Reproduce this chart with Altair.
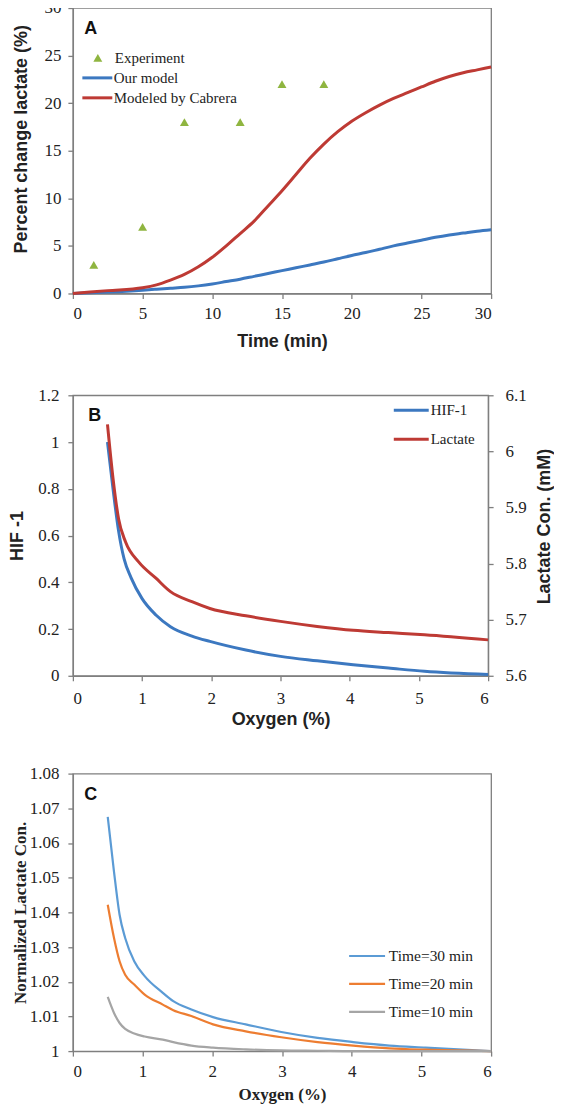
import altair as alt
import pandas as pd

# ---------------- Panel A data ----------------
exp_time = [1.5, 5, 8, 12, 15, 18]
exp_value = [3, 7, 18, 18, 22, 22]
model_time = [0, 2.5, 5, 6, 7, 8, 9, 10, 11, 12, 13, 14, 15, 16, 17, 18, 19, 20,
              21, 22, 23, 24, 25, 26, 27, 28, 29, 30]
our_model = [0, 0.15, 0.35, 0.45, 0.55, 0.65, 0.8, 1.0, 1.25, 1.5, 1.8, 2.1, 2.4, 2.7,
             3.0, 3.3, 3.65, 4.0, 4.3, 4.65, 5.0, 5.3, 5.6, 5.9, 6.15, 6.35, 6.55, 6.7]
cabrera = [0, 0.3, 0.6, 0.9, 1.4, 2.0, 2.8, 3.8, 5.0, 6.3, 7.6, 9.2, 10.8, 12.5,
           14.2, 15.7, 17.0, 18.1, 19.0, 19.8, 20.5, 21.1, 21.7, 22.3, 22.8, 23.2, 23.5, 23.8]

# ---------------- Panel B data ----------------
hif_oxygen = [0.5, 0.58, 0.66, 0.74, 0.84, 1.0, 1.2, 1.41, 1.72, 1.98, 2.5, 3.0, 3.53,
              4.05, 4.56, 5.08, 6.0]
hif_value = [1.0, 0.80, 0.62, 0.50, 0.42, 0.33, 0.26, 0.21, 0.17, 0.147, 0.11, 0.083,
             0.064, 0.047, 0.033, 0.019, 0.005]
lac_oxygen = [0.5, 0.58, 0.66, 0.76, 0.95, 1.2, 1.41, 1.72, 1.98, 2.5, 3.0, 3.53, 4.05,
              4.56, 5.08, 6.0]
lac_value = [6.048, 5.952, 5.88, 5.839, 5.803, 5.774, 5.75, 5.732, 5.72, 5.707, 5.697,
             5.688, 5.681, 5.677, 5.673, 5.664]

# ---------------- Panel C data ----------------
c_oxygen = [0.5, 0.59, 0.67, 0.75, 0.88, 1.03, 1.29, 1.44, 1.70, 2.01, 2.48, 2.99, 3.51,
            4.02, 4.54, 5.06, 6.0]
t30 = [1.0675, 1.0517, 1.0393, 1.0326, 1.0259, 1.0216, 1.0168, 1.0144, 1.012, 1.0098,
       1.0077, 1.0055, 1.0038, 1.0026, 1.0016, 1.001, 1.0]
t20 = [1.0422, 1.0326, 1.0259, 1.022, 1.0192, 1.0163, 1.0134, 1.0118, 1.0101, 1.0077,
       1.0057, 1.004, 1.0026, 1.0016, 1.0008, 1.0004, 1.0]
t10 = [1.0156, 1.011, 1.0081, 1.0064, 1.0051, 1.0042, 1.0033, 1.0026, 1.0016, 1.001,
       1.0005, 1.0002, 1.0001, 1.0, 1.0, 1.0, 1.0]

AX = "#7f7f7f"
TXT = "#222222"
SERIF = "Liberation Serif"
SANS = "Liberation Sans"
BLUE = "#3c78c0"
RED = "#be3a34"
GREEN = "#8fb540"


def axis(title, values, title_font, title_size, title_pad, label_pad, **kw):
    return alt.Axis(title=title, values=values, grid=False, domainColor=AX,
                    tickColor=AX, domainWidth=1.3, tickWidth=1.3, tickSize=5,
                    labelFont=SERIF, labelFontSize=17, labelColor=TXT,
                    titleFont=title_font, titleFontSize=title_size,
                    titleFontWeight="bold", titleColor=TXT,
                    titlePadding=title_pad, labelPadding=label_pad, format="~g", **kw)


def letter(t, x, y):
    return alt.Chart(pd.DataFrame({"t": [t]})).mark_text(
        font=SANS, fontSize=18, fontWeight="bold", color="#111111"
    ).encode(x=alt.value(x), y=alt.value(y), text="t:N")


# ---------------- Panel A ----------------
dfA_exp = pd.DataFrame({"time": exp_time, "value": exp_value, "series": "Experiment"})
dfA_lines = pd.concat([
    pd.DataFrame({"time": model_time, "value": our_model, "series": "Our model"}),
    pd.DataFrame({"time": model_time, "value": cabrera, "series": "Modeled by Cabrera"}),
])
xA = alt.X("time:Q", scale=alt.Scale(domain=[0, 30], nice=False),
           axis=axis("Time (min)", list(range(0, 31, 5)), SANS, 18, 11, 7))
yA = alt.Y("value:Q", scale=alt.Scale(domain=[0, 30], nice=False),
           axis=axis("Percent change lactate (%)", list(range(0, 31, 5)), SANS, 18, 13, 7,
                     titleY=131))

linesA = alt.Chart(dfA_lines).mark_line(strokeWidth=3, interpolate="monotone").encode(
    x=xA, y=yA,
    color=alt.Color("series:N",
                    scale=alt.Scale(domain=["Our model", "Modeled by Cabrera"], range=[BLUE, RED]),
                    legend=alt.Legend(title=None, orient="none", legendX=17, legendY=62.5,
                                      padding=0, symbolType="M-3,0L3,0", symbolSize=100,
                                      symbolStrokeWidth=3, labelFont=SERIF, labelFontSize=15,
                                      labelColor=TXT, labelOffset=9, rowPadding=4)),
    detail="series:N",
)
pointsA = alt.Chart(dfA_exp).mark_point(filled=True, size=80, color=GREEN, opacity=1).encode(
    x=xA, y=yA,
    shape=alt.Shape("series:N",
                    scale=alt.Scale(domain=["Experiment"], range=["triangle-up"]),
                    legend=alt.Legend(title=None, orient="none", legendX=17.5, legendY=42.5,
                                      padding=0, symbolSize=80, symbolFillColor=GREEN,
                                      symbolStrokeColor=GREEN, symbolStrokeWidth=0,
                                      labelFont=SERIF, labelFontSize=15, labelColor=TXT,
                                      labelOffset=9.5)),
)
panelA = alt.layer(linesA, pointsA, letter("A", 18, 21)).properties(width=419, height=286)

# ---------------- Panel B ----------------
dfB_hif = pd.DataFrame({"oxygen": hif_oxygen, "value": hif_value, "series": "HIF-1"})
dfB_lac = pd.DataFrame({"oxygen": lac_oxygen, "value": lac_value, "series": "Lactate"})
xB = alt.X("oxygen:Q", scale=alt.Scale(domain=[0, 6], nice=False),
           axis=axis("Oxygen (%)", list(range(0, 7)), SANS, 18, 4, 10))
colorB = alt.Color("series:N",
                   scale=alt.Scale(domain=["HIF-1", "Lactate"], range=[BLUE, RED]),
                   legend=alt.Legend(title=None, orient="none", legendX=331.5, legendY=7.5,
                                     padding=0, symbolType="M-3.5,0L3.5,0", symbolSize=100,
                                     symbolStrokeWidth=3, labelFont=SERIF, labelFontSize=15,
                                     labelColor=TXT, labelOffset=12, rowPadding=13))
hif_ticks = [0, 0.2, 0.4, 0.6, 0.8, 1.0, 1.2]
lac_ticks = [5.6, 5.7, 5.8, 5.9, 6.0, 6.1]
lineHIF = alt.Chart(dfB_hif).mark_line(strokeWidth=3, interpolate="monotone").encode(
    x=xB,
    y=alt.Y("value:Q", scale=alt.Scale(domain=[0, 1.2], nice=False),
            axis=axis("HIF -1", hif_ticks, SANS, 18, 11, 9)),
    color=colorB,
)
lineLac = alt.Chart(dfB_lac).mark_line(strokeWidth=3, interpolate="monotone").encode(
    x=xB,
    y=alt.Y("value:Q", scale=alt.Scale(domain=[5.6, 6.1], nice=False),
            axis=axis("Lactate Con. (mM)", lac_ticks, SANS, 18, 9, 12,
                      orient="right", titleAngle=270, titleBaseline="top", titleY=131)),
    color=colorB,
)
panelB = alt.layer(lineHIF, lineLac, letter("B", 22, 21)).resolve_scale(
    y="independent").properties(width=416, height=281)

# ---------------- Panel C ----------------
dfC = pd.concat([
    pd.DataFrame({"oxygen": c_oxygen, "value": t30, "series": "Time=30 min"}),
    pd.DataFrame({"oxygen": c_oxygen, "value": t20, "series": "Time=20 min"}),
    pd.DataFrame({"oxygen": c_oxygen, "value": t10, "series": "Time=10 min"}),
])
c_ticks = [1.0, 1.01, 1.02, 1.03, 1.04, 1.05, 1.06, 1.07, 1.08]
linesC = alt.Chart(dfC).mark_line(strokeWidth=2.2, interpolate="monotone").encode(
    x=alt.X("oxygen:Q", scale=alt.Scale(domain=[0, 6], nice=False),
            axis=axis("Oxygen (%)", list(range(0, 7)), SERIF, 17, 7, 7)),
    y=alt.Y("value:Q", scale=alt.Scale(domain=[1.0, 1.08], nice=False),
            axis=axis("Normalized Lactate Con.", c_ticks, SERIF, 17, 0, 9)),
    color=alt.Color("series:N",
                    scale=alt.Scale(domain=["Time=30 min", "Time=20 min", "Time=10 min"],
                                    range=["#5b9bd5", "#ed7d31", "#a5a5a5"]),
                    sort=["Time=30 min", "Time=20 min", "Time=10 min"],
                    legend=alt.Legend(title=None, orient="none", legendX=287, legendY=175,
                                      padding=0, symbolType="M-3.6,0L3.6,0", symbolSize=100,
                                      symbolStrokeWidth=2.2, labelFont=SERIF,
                                      labelFontSize=15.5, labelColor=TXT, labelOffset=14,
                                      rowPadding=11)),
)
panelC = alt.layer(linesC, letter("C", 18, 21)).properties(width=419, height=278)

chart = alt.vconcat(panelA, panelB, panelC, spacing=34).resolve_scale(
    color="independent", shape="independent"
).properties(
    padding={"left": 0, "top": -11, "right": 0, "bottom": 0}
).configure_view(stroke=AX, strokeWidth=1.3)

chart.save("out.html", embed_options={"renderer": "svg", "actions": False})
